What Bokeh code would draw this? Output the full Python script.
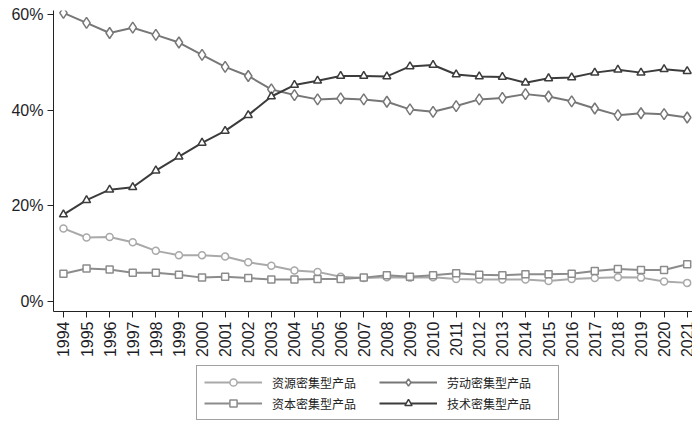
import math
from bokeh.plotting import figure
from bokeh.layouts import column
from bokeh.models import Range1d, FixedTicker, PrintfTickFormatter, Legend, LegendItem
from bokeh.embed import file_html
from bokeh.resources import INLINE

years = list(range(1994, 2022))
resource = [15.3, 13.4, 13.5, 12.4, 10.6, 9.7, 9.7, 9.4, 8.2, 7.5, 6.5, 6.2, 5.2, 4.9,
            5.1, 5.0, 5.1, 4.7, 4.6, 4.6, 4.6, 4.3, 4.7, 4.9, 5.1, 5.0, 4.2, 3.9]
labor = [60.4, 58.3, 56.2, 57.3, 55.8, 54.2, 51.6, 49.1, 47.2, 44.4, 43.2, 42.3, 42.5, 42.3,
         41.8, 40.2, 39.7, 40.9, 42.3, 42.6, 43.4, 42.9, 41.9, 40.4, 39.0, 39.4, 39.2, 38.5]
capital = [5.8, 6.9, 6.7, 6.0, 6.0, 5.6, 5.0, 5.2, 4.9, 4.6, 4.6, 4.7, 4.7, 5.0,
           5.5, 5.2, 5.5, 5.9, 5.6, 5.5, 5.7, 5.7, 5.8, 6.4, 6.8, 6.6, 6.6, 7.8]
tech = [18.2, 21.2, 23.4, 23.9, 27.4, 30.3, 33.2, 35.7, 39.0, 42.9, 45.3, 46.2, 47.2, 47.2,
        47.1, 49.2, 49.5, 47.5, 47.1, 47.0, 45.8, 46.7, 46.9, 47.9, 48.5, 47.9, 48.6, 48.2]
names = ["资源密集型产品", "劳动密集型产品", "资本密集型产品", "技术密集型产品"]
y_ticks = [0, 20, 40, 60]

p = figure(width=692, height=362, output_backend="svg", toolbar_location=None,
           x_range=Range1d(1993.57, 2021.23), y_range=Range1d(-2.09, 60.9),
           min_border_left=53, min_border_right=0, min_border_top=10, min_border_bottom=51)
p.outline_line_color = None
p.grid.visible = False

font = "Liberation Sans"
p.yaxis.ticker = FixedTicker(ticks=y_ticks)
p.yaxis.formatter = PrintfTickFormatter(format="%d%%")
p.xaxis.ticker = FixedTicker(ticks=years)
p.xaxis.major_label_orientation = math.pi / 2
for ax in (p.xaxis, p.yaxis):
    ax.major_label_text_font = font
    ax.major_label_text_font_size = "16px"
    ax.major_label_text_color = "#1e1e28"
    ax.axis_line_color = "#222222"
    ax.major_tick_line_color = "#222222"
    ax.major_tick_out = 6
    ax.major_tick_in = 0
    ax.minor_tick_line_color = None
    ax.major_label_standoff = 4

# (values, colour, marker, size in chart, size in legend)
styles = [
    (resource, "#a9a9a9", "circle", 7, 6),
    (labor, "#777777", "diamond", 11, 9),
    (capital, "#8c8c8c", "square", 7, 6),
    (tech, "#3c3c3c", "triangle", 8, 7),
]

# legend lives in a thin second figure below the chart (its data sits outside its ranges)
q = figure(width=692, height=59, output_backend="svg", toolbar_location=None,
           x_axis_type=None, y_axis_type=None,
           x_range=Range1d(0, 1), y_range=Range1d(0, 1),
           min_border_left=0, min_border_right=0, min_border_top=0, min_border_bottom=0)
q.outline_line_color = None

items = {}
for (vals, col, mk, sz, lsz), nm in zip(styles, names):
    p.line(years, vals, line_color=col, line_width=2)
    p.scatter(years, vals, marker=mk, size=sz, line_color=col, fill_color="white", line_width=1.5)
    l1 = q.line(years, vals, line_color=col, line_width=2)
    l2 = q.scatter(years, vals, marker=mk, size=lsz, line_color=col, fill_color="white", line_width=1.5)
    items[nm] = LegendItem(label=nm, renderers=[l1, l2])

order = [names[0], names[2], names[1], names[3]]
legend = Legend(items=[items[n] for n in order], ncols=2, location=(143, 1),
                label_text_font="Noto Sans CJK SC", label_text_font_size="12px",
                label_text_color="#222222", glyph_width=58, glyph_height=18,
                label_standoff=10, label_width=104, label_height=18, spacing=3,
                padding=7, margin=0, border_line_color="#444444", border_line_width=1)
q.add_layout(legend, "center")

layout = column(p, q, spacing=0)
open("out.html", "w").write(file_html(layout, INLINE))
